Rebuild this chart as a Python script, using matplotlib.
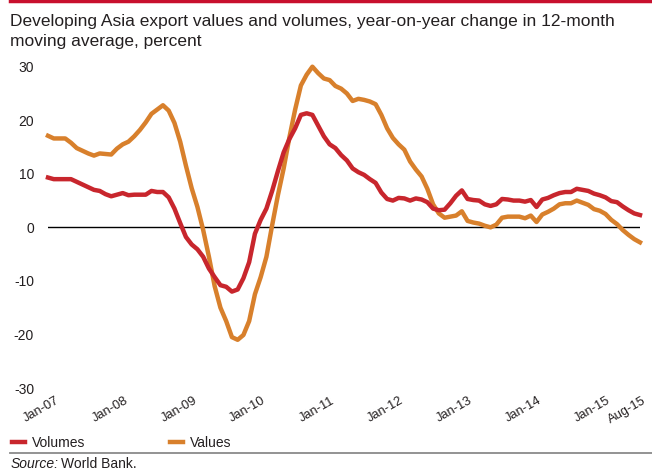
import numpy as np
import matplotlib
matplotlib.use('Agg')
import matplotlib.pyplot as plt
import matplotlib.transforms as mtransforms
from matplotlib import font_manager
from matplotlib.lines import Line2D

# monthly, Jan-07 .. Aug-15
volumes = [9.3, 9.0, 9.0, 9.0, 9.0, 8.5, 8.0, 7.5, 7.0, 6.8, 6.2, 5.8,
           6.1, 6.4, 6.0, 6.1, 6.1, 6.1, 6.8, 6.6, 6.6, 5.6, 3.5, 0.8,
           -1.8, -3.2, -4.1, -5.5, -7.7, -9.3, -10.8, -11.1, -12.0, -11.6, -9.5, -6.5,
           -1.2, 1.4, 3.5, 6.8, 10.5, 14.0, 16.5, 18.5, 21.0, 21.3, 21.0, 19.0,
           17.0, 15.5, 14.8, 13.5, 12.5, 11.0, 10.3, 9.8, 9.0, 8.3, 6.5, 5.3,
           5.0, 5.5, 5.4, 5.0, 5.4, 5.2, 4.7, 3.5, 3.2, 3.3, 4.5, 5.9,
           6.9, 5.3, 5.1, 5.0, 4.3, 4.0, 4.3, 5.3, 5.2, 5.0, 5.0, 4.8,
           5.1, 3.8, 5.2, 5.5, 6.0, 6.4, 6.6, 6.6, 7.2, 7.0, 6.8, 6.3,
           6.0, 5.6, 4.9, 4.7, 3.9, 3.2, 2.6, 2.3]
values = [17.1, 16.6, 16.6, 16.6, 15.8, 14.8, 14.3, 13.8, 13.4, 13.8, 13.7, 13.6,
          14.7, 15.5, 16.0, 17.0, 18.2, 19.6, 21.2, 22.0, 22.8, 21.8, 19.5, 16.0,
          11.5, 7.3, 3.8, -0.5, -5.5, -11.0, -15.0, -17.5, -20.5, -21.0, -20.1, -17.5,
          -12.5, -9.3, -5.5, 0.4, 6.0, 11.0, 16.8, 22.0, 26.5, 28.5, 30.0, 28.8,
          27.8, 27.5, 26.4, 25.9, 25.0, 23.6, 24.0, 23.8, 23.5, 23.0, 21.0, 18.5,
          16.7, 15.5, 14.5, 12.3, 10.8, 9.5, 7.2, 4.3, 2.6, 1.8, 2.0, 2.2,
          3.0, 1.2, 0.9, 0.7, 0.3, 0.0, 0.5, 1.8, 2.0, 2.0, 2.0, 1.7,
          2.2, 1.0, 2.4, 2.9, 3.5, 4.3, 4.5, 4.5, 5.0, 4.6, 4.2, 3.4,
          3.1, 2.5, 1.4, 0.6, -0.5, -1.4, -2.2, -2.8]
tick_months = [0, 12, 24, 36, 48, 60, 72, 84, 96, 103]
tick_labels = ['Jan-07', 'Jan-08', 'Jan-09', 'Jan-10', 'Jan-11', 'Jan-12',
               'Jan-13', 'Jan-14', 'Jan-15', 'Aug-15']
y_ticks = [-30, -20, -10, 0, 10, 20, 30]

names = {f.name for f in font_manager.fontManager.ttflist}
narrow = 'Liberation Sans Narrow' if 'Liberation Sans Narrow' in names else 'Liberation Sans'
plt.rcParams['font.family'] = ['Liberation Sans', 'DejaVu Sans']

RED = '#c8262d'
ORANGE = '#d8802c'
TXT = '#231f20'

W, H = 652, 473
fig = plt.figure(figsize=(W / 100, H / 100), dpi=100)
ax = fig.add_axes([48 / W, 1 - 388 / H, (640 - 48) / W, (388 - 66.7) / H])

months = np.arange(len(volumes))
ax.plot(months, volumes, color=RED, lw=3.2, solid_joinstyle='round', clip_on=False, zorder=3)
ax.plot(months, values, color=ORANGE, lw=3.2, solid_joinstyle='round', clip_on=False, zorder=2)
ax.axhline(0, color='black', lw=1.0, zorder=1)

ax.set_xlim(0, 103)
ax.set_ylim(-30, 30)
for s in ax.spines.values():
    s.set_visible(False)

ax.set_yticks(y_ticks)
ax.set_yticklabels([str(v) for v in y_ticks], family=narrow, fontsize=10, color=TXT)
ax.tick_params(axis='y', length=0, pad=10)

ax.set_xticks(tick_months)
ax.set_xticklabels(tick_labels, family=narrow, fontsize=9.3, color=TXT, rotation=30, ha='center')
ax.tick_params(axis='x', length=0, pad=5)
shift = mtransforms.ScaledTranslation(-7 / 100, 0, fig.dpi_scale_trans)
last_shift = mtransforms.ScaledTranslation(-13 / 100, 0, fig.dpi_scale_trans)
labs = ax.get_xticklabels()
for lab in labs[:-1]:
    lab.set_transform(lab.get_transform() + shift)
labs[-1].set_transform(labs[-1].get_transform() + last_shift)

# title
fig.text(10 / W, 1 - 26 / H, 'Developing Asia export values and volumes, year-on-year change in 12-month',
         fontsize=12.5, color=TXT, va='baseline')
fig.text(10 / W, 1 - 46 / H, 'moving average, percent', fontsize=12.5, color=TXT, va='baseline')

# rules
fig.add_artist(Line2D([10 / W, 1], [1 - 1.5 / H, 1 - 1.5 / H], color='#c8102e', lw=2.5))
fig.add_artist(Line2D([10 / W, 1], [1 - 452.5 / H, 1 - 452.5 / H], color='#8a8a8a', lw=1.3))

# legend
handles = [Line2D([], [], color=RED, lw=3.2), Line2D([], [], color=ORANGE, lw=3.2)]
fig.legend(handles, ['Volumes', 'Values'], loc='center left', bbox_to_anchor=(12 / W, 1 - 443 / H),
           ncol=2, frameon=False, fontsize=10, handlelength=0.95, handletextpad=0.5,
           columnspacing=6.1, borderpad=0, borderaxespad=0, labelcolor=TXT)

fig.text(11 / W, 1 - 468 / H, 'Source:', fontsize=10, style='italic', color=TXT, va='baseline')
fig.text(61 / W, 1 - 468 / H, 'World Bank.', fontsize=10, color=TXT, va='baseline')

fig.savefig('out.png', dpi=100)
